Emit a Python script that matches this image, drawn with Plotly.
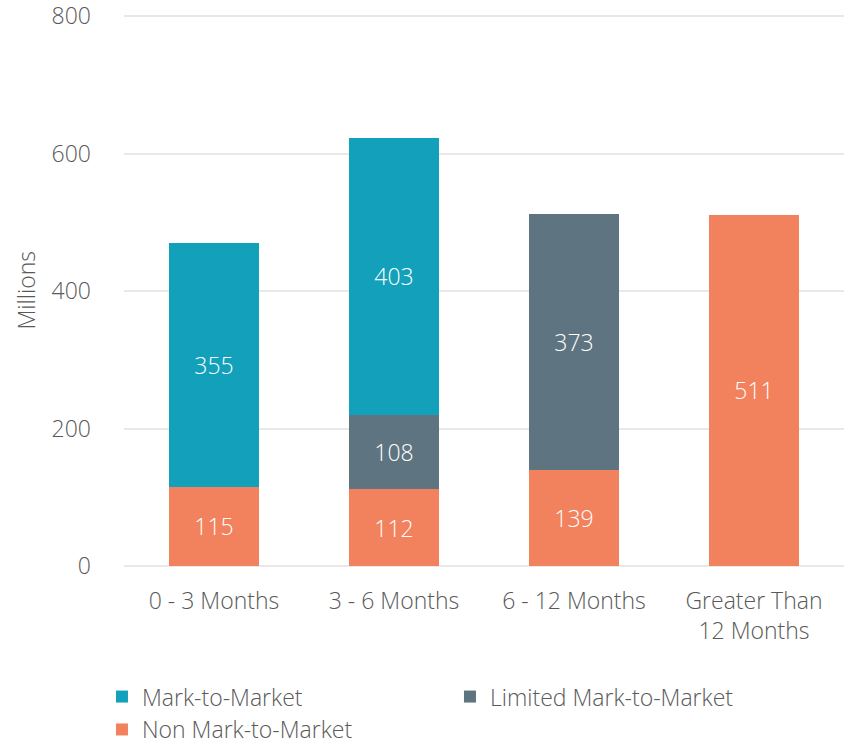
import plotly.graph_objects as go

categories = ["0 - 3 Months", "3 - 6 Months", "6 - 12 Months", "Greater Than<br>12 Months"]
non_mtm = [115, 112, 139, 511]
limited_mtm = [None, 108, 373, None]
mtm = [355, 403, None, None]
y_ticks = [0, 200, 400, 600, 800]

FONT = "Open Sans, Segoe UI, sans-serif"
TXT = "#595959"
FS = 23

fig = go.Figure()
series = [
    ("Non Mark-to-Market", non_mtm, "#F2815E"),
    ("Limited Mark-to-Market", limited_mtm, "#5E7480"),
    ("Mark-to-Market", mtm, "#12A0BA"),
]
for name, vals, col in series:
    fig.add_trace(go.Bar(
        x=categories, y=vals, name=name, marker=dict(color=col, line=dict(width=0)),
        width=0.5, text=vals, texttemplate="%{y}", textposition="inside",
        insidetextanchor="middle", textangle=0,
        textfont=dict(color="white", size=FS, family=FONT, weight=300),
    ))

fig.update_layout(
    barmode="stack",
    width=847, height=745,
    margin=dict(l=124, r=3, t=15, b=179, autoexpand=False),
    plot_bgcolor="white", paper_bgcolor="white",
    font=dict(family=FONT, color=TXT, size=FS, weight=300),
    uniformtext=dict(minsize=FS),
    xaxis=dict(showgrid=False, showline=False, ticks="", ticklabelstandoff=19,
               tickfont=dict(size=FS, color=TXT, weight=300)),
    yaxis=dict(range=[0, 801.5], tickvals=y_ticks, showgrid=True, gridcolor="#E8E8E8",
               gridwidth=2, zeroline=True, zerolinecolor="#E8E8E8", zerolinewidth=2,
               ticks="", ticklabelstandoff=32, ticklabeloverflow="allow",
               tickfont=dict(size=FS, color=TXT, weight=300)),
    legend=dict(orientation="h", traceorder="reversed", x=-0.0306, xanchor="left",
                y=-0.198, yanchor="top", entrywidth=303, entrywidthmode="pixels",
                font=dict(size=FS, color=TXT, weight=300), itemclick=False),
    annotations=[dict(text="Millions", x=-0.1375, y=0.5, xref="paper", yref="paper",
                      textangle=-90, showarrow=False, xanchor="center", yanchor="middle",
                      font=dict(size=FS, color=TXT, weight=300))],
)

fig.write_html("out.html", config={"displayModeBar": False},
               post_script="document.body.style.margin='0';")
